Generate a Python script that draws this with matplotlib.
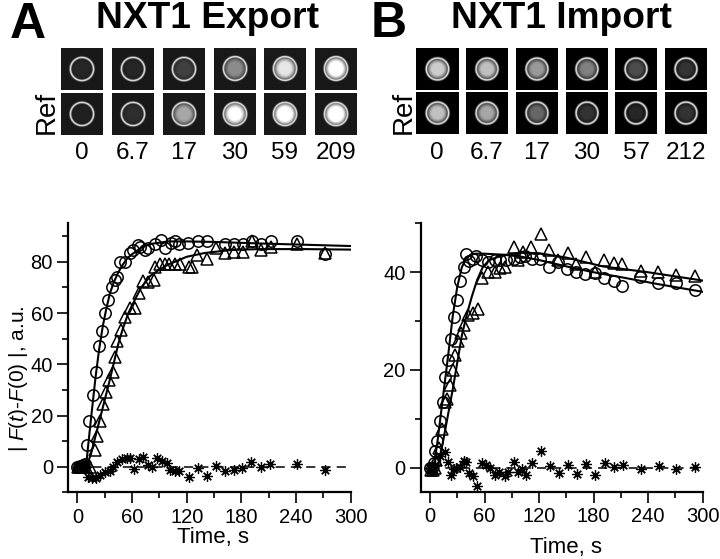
import numpy as np
import matplotlib
matplotlib.use('Agg')
import matplotlib.pyplot as plt
from matplotlib.ticker import MultipleLocator

plt.rcParams['font.family'] = ['Liberation Sans', 'DejaVu Sans']
plt.rcParams['mathtext.fontset'] = 'custom'
plt.rcParams['mathtext.rm'] = 'Liberation Sans'
plt.rcParams['mathtext.it'] = 'Liberation Sans:italic'

# panel A, export
a_circ_t = [0, 2, 4, 6, 8, 10.5, 13, 17.5, 20.5, 24, 27, 30, 33.3, 37.7, 41, 44, 47, 52, 58, 61, 66.5, 69, 74, 77.5, 85, 92,
            96, 103, 107, 112, 121, 132, 142, 162, 172, 182, 192, 202, 212, 241, 272]
a_circ_y = [0, 0, 0, 0.5, 1, 8.5, 18, 28, 37, 47, 53, 60, 65, 70, 73, 74, 80, 80, 83.5, 84.5, 86.5, 86, 84.5, 85.5, 87, 88.5,
            85.5, 87.5, 88, 87, 87.5, 88, 88, 87, 87, 87, 88, 87, 88, 88, 83]
a_tri_t = [1, 3, 5, 7, 9, 14, 19.4, 21.7, 25, 28.5, 32, 34.8, 38.8, 41, 43.7, 48, 52, 58, 63, 68, 72, 78, 84, 85, 91, 96, 101,
           107, 113, 122, 126, 131, 142, 152, 162, 172, 182, 192, 202, 212, 241, 272]
a_tri_y = [0, 0, 0, 0, 0, 0, 6.5, 12, 18, 24.5, 29, 34, 37, 43, 49, 53.5, 58.5, 62, 62, 68, 72.5, 72, 73, 78, 79, 79, 79,
           79, 79, 78, 78, 82.5, 81, 85.5, 83.5, 84, 84, 88, 84.5, 86, 87, 83.5]
a_star_t = [0, 2, 4, 6, 8, 10, 12, 16, 21, 25, 30, 36, 39.5, 43, 48.6, 54, 58, 62, 68, 72.4, 77, 81.5, 87, 92.5, 98, 102,
            107, 112, 122, 132, 142, 152, 162, 172, 181, 191, 201, 211, 241, 272]
a_star_y = [0, 0.5, -0.5, 0.5, -0.5, 0, -4, -4.5, -4.5, -3.3, -2, -1.5, 0, 2, 3, 3.3, 3.3, -1, 3, 3.6, 0.6, -0.3, 3.3, 2.3,
            1.3, -1.3, -1.7, -1.6, -4.2, -0.7, -3.5, 0.3, -1.6, -1.3, -0.4, 1.7, -0.3, 0.9, 0.9, -1.3]
a_fit1_t = [9.5, 13, 16, 20, 24, 28, 32, 36, 40, 45, 50, 55, 60, 70, 80, 100, 120, 150, 200, 250, 300]
a_fit1_y = [0, 12, 22, 35, 46, 55, 62, 68, 72, 76, 79, 81.5, 83, 85.5, 87, 88, 88, 87.8, 87.2, 86.7, 86.2]
a_fit2_t = [10, 12, 15, 20, 25, 30, 35, 40, 45, 50, 56, 60, 70, 80, 90, 100, 120, 140, 170, 200, 250, 300]
a_fit2_y = [0, 2, 5, 12, 19, 26, 33, 40.5, 48, 54, 60, 63, 70, 74.5, 77, 79, 82, 83.5, 84.7, 85, 85, 84.8]

# panel B, import
b_circ_t = [0, 2, 4, 6, 8, 11, 14, 17, 20, 23, 26.4, 30, 33, 37, 40, 43, 47, 51, 57, 64, 71.5, 77, 84, 92, 99, 104.5, 112,
            121, 131, 141, 151, 161, 171, 181.5, 191.4, 202, 211.6, 231, 251, 271, 291.5]
b_circ_y = [0, 0, 1, 3.5, 5.5, 9.5, 13.5, 18.5, 22, 26.3, 30.9, 34.4, 38.2, 41, 43.7, 42.4, 42.8, 43.4, 42.5, 42.2, 42.5,
            42.5, 42.6, 42.8, 43.2, 43.3, 42.8, 42.8, 41.1, 42.2, 40.7, 40.1, 39.6, 39.8, 38.8, 38.2, 37.2, 39, 37.7,
            37.7, 36.4]
b_tri_t = [1, 3, 5, 7, 10, 13, 16, 19, 22, 25, 28, 31, 34, 37, 42, 47.7, 52.4, 57, 64, 71.5, 77, 82.5, 92, 97, 102.7, 111,
           122, 131, 141, 151.5, 161, 171.6, 181.5, 191.4, 202, 211.6, 232, 251, 271, 291.5]
b_tri_y = [-0.5, -0.5, 0, 1.5, 4, 8, 13.5, 14, 17, 20, 23, 26, 27.5, 29.2, 31.2, 31.6, 32.4, 38.8, 40, 40, 40.8, 41.1,
           45.2, 42.5, 44.2, 45.2, 47.8, 44.6, 42.6, 44, 41.7, 43.2, 40.1, 42.6, 41.8, 41.6, 40.3, 40.1, 39.4, 39.2]
b_star_t = [0, 3, 6, 11, 16.5, 20, 23, 26, 29, 33, 37, 40, 43, 47, 52, 57, 62, 66, 71.5, 76, 82, 86, 92, 96.5, 101.5, 106,
            112, 122, 132, 142, 152, 162, 172, 182, 192, 202, 212, 232, 252, 271, 291]
b_star_y = [0, -0.5, 0.5, 2.3, 3.3, 1.2, -1.4, -0.3, -0.1, 0.2, 1.4, 1.2, -1, -1.8, -3.7, 1, 0.5, 0, -1.4, -0.8, -1.8, -0.8,
            1.2, -0.8, -0.3, -1.4, 0.9, 3.5, 0.4, -1, 0.6, -1.2, 0.75, -1.6, 1, 0.2, 0.5, -0.3, 0.3, -0.3, 0.2]
b_fit1_t = [4, 8, 12, 16, 20, 25, 30, 35, 40, 45, 50, 60, 80, 100, 120, 150, 180, 210, 250, 300]
b_fit1_y = [0, 5, 11, 17, 23, 31, 37, 41, 43, 43.6, 43.8, 43.8, 43.6, 43.2, 42.5, 41.2, 40, 39, 37.6, 36]
b_fit2_t = [8, 12, 16, 20, 25, 30, 35, 40, 46, 52, 58, 65, 70, 80, 100, 120, 150, 190, 240, 300]
b_fit2_y = [0, 3, 7, 11, 16, 21.5, 27, 31, 35, 38.5, 41, 42.5, 42.8, 43.5, 44, 43.9, 43, 41.2, 40, 38.3]

# cell pictures, brightness inside the ring
a_times = ['0', '6.7', '17', '30', '59', '209']
b_times = ['0', '6.7', '17', '30', '57', '212']
a_top = [0.05, 0.05, 0.15, 0.45, 0.8, 0.95]
a_bot = [0.03, 0.08, 0.55, 0.9, 1.0, 1.0]
b_top = [0.8, 0.75, 0.6, 0.5, 0.3, 0.2]
b_bot = [0.75, 0.65, 0.4, 0.2, 0.15, 0.2]
a_left = [61, 111.7, 162.7, 213.7, 264, 315.3]
b_left = [416, 465.7, 515.7, 565.7, 615.3, 665.3]

W, H = 720, 559
fig = plt.figure(figsize=(W / 100, H / 100), dpi=100)


def px_axes(l, t, r, b):
    return fig.add_axes([l / W, 1 - b / H, (r - l) / W, (b - t) / H])


def label(x, y, s, **kw):
    fig.text(x / W, 1 - y / H, s, ha=kw.pop('ha', 'center'), va=kw.pop('va', 'center'), **kw)


def tile(l, t, level, bg, r_ring):
    ax = px_axes(l, t, l + 42, t + 42)
    yy, xx = np.mgrid[-21:21:84j, -21:21:84j]
    r = np.hypot(xx, yy)
    im = bg + level * np.clip(1.15 - (r / (r_ring * 0.98)) ** 3, 0, 1)
    im = np.maximum(im, np.exp(-((r - r_ring) / 1.0) ** 2))
    ax.imshow(im, cmap='gray', vmin=0, vmax=1, interpolation='bilinear')
    ax.axis('off')


for i in range(6):
    tile(a_left[i], 48.3, a_top[i], 0.1, 11.7)
    tile(a_left[i], 92.7, a_bot[i], 0.1, 11.7)
    label(a_left[i] + 21, 153, a_times[i], fontsize=17.5)
    tile(b_left[i], 48, b_top[i], 0.0, 11)
    tile(b_left[i], 92, b_bot[i], 0.0, 11)
    label(b_left[i] + 21, 153, b_times[i], fontsize=17.5)

label(208, 19, 'NXT1 Export', fontsize=26.7, fontweight='bold')
label(561, 19, 'NXT1 Import', fontsize=26.7, fontweight='bold')
label(28, 25, 'A', fontsize=36, fontweight='bold')
label(389, 24, 'B', fontsize=36, fontweight='bold')
label(47, 112, 'Ref', fontsize=20, rotation=90)
label(404, 112, 'Ref', fontsize=20, rotation=90)


def panel(ax, circ, tri, star, fit1, fit2, ylim, major, minor):
    ax.plot([0, 300], [0, 0], color='k', lw=1.1, ls=(0, (6, 4)), zorder=1)
    ax.plot(fit1[0], fit1[1], color='k', lw=1.5, zorder=2)
    ax.plot(fit2[0], fit2[1], color='k', lw=1.5, zorder=2)
    ax.plot(circ[0], circ[1], 'o', mfc='none', mec='k', mew=1.1, ms=8.2, clip_on=False)
    ax.plot(tri[0], tri[1], '^', mfc='none', mec='k', mew=1.1, ms=9, clip_on=False)
    ax.plot(star[0], star[1], ls='none', marker=(8, 2, 0), mec='k', mew=0.9, ms=7.5, clip_on=False)
    ax.set_xlim(-10, 300)
    ax.set_ylim(*ylim)
    ax.spines[['top', 'right']].set_visible(False)
    ax.spines[['left', 'bottom']].set_linewidth(1.6)
    ax.xaxis.set_major_locator(MultipleLocator(60))
    ax.xaxis.set_minor_locator(MultipleLocator(30))
    ax.yaxis.set_major_locator(MultipleLocator(major))
    ax.yaxis.set_minor_locator(MultipleLocator(minor))
    ax.tick_params(which='major', length=8, width=1.2, labelsize=14.5, pad=3)
    ax.tick_params(which='minor', length=4, width=1.2)
    ax.patch.set_alpha(0)


ax_a = px_axes(68.2, 223.5, 350.8, 492.3)
panel(ax_a, (a_circ_t, a_circ_y), (a_tri_t, a_tri_y), (a_star_t, a_star_y),
      (a_fit1_t, a_fit1_y), (a_fit2_t, a_fit2_y), (-10, 95), 20, 10)
ax_b = px_axes(420.9, 223.4, 702.7, 492.1)
panel(ax_b, (b_circ_t, b_circ_y), (b_tri_t, b_tri_y), (b_star_t, b_star_y),
      (b_fit1_t, b_fit1_y), (b_fit2_t, b_fit2_y), (-5, 50), 20, 10)

label(213, 538, 'Time, s', fontsize=16)
label(566, 547, 'Time, s', fontsize=16)
label(19, 379, r'| $\mathit{F}$($\mathit{t}$)-$\mathit{F}$(0) |, a.u.', fontsize=15, rotation=90)

fig.savefig('out.png', dpi=100)
